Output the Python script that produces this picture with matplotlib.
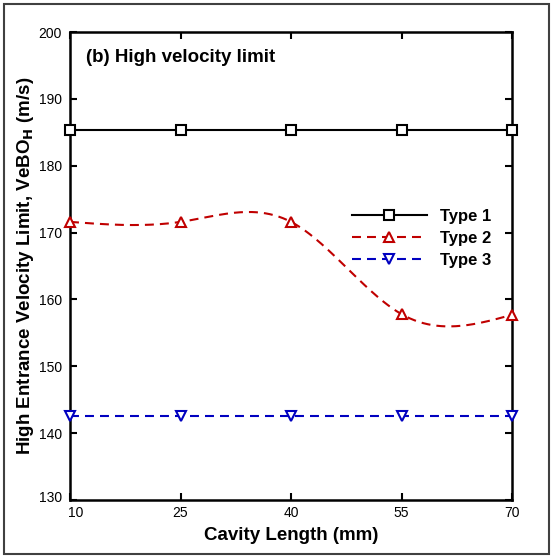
import numpy as np
import matplotlib.pyplot as plt
from matplotlib.patches import Rectangle
import matplotlib.transforms as mtransforms

plt.rcParams['font.family'] = ['Liberation Sans', 'DejaVu Sans']

cavity_length = [10, 25, 40, 55, 70]
type1 = [185.3, 185.3, 185.3, 185.3, 185.3]
type2 = [171.6, 171.6, 171.6, 157.8, 157.7]
type3 = [142.5, 142.5, 142.5, 142.5, 142.5]
series_labels = ['Type 1', 'Type 2', 'Type 3']


def natural_spline(xs, ys, n_out=300):
    # natural cubic spline through the points (smooth connecting line)
    xs = np.asarray(xs, float)
    ys = np.asarray(ys, float)
    n = len(xs) - 1
    h = np.diff(xs)
    A = np.zeros((n + 1, n + 1))
    r = np.zeros(n + 1)
    A[0, 0] = 1
    A[n, n] = 1
    for i in range(1, n):
        A[i, i - 1] = h[i - 1]
        A[i, i] = 2 * (h[i - 1] + h[i])
        A[i, i + 1] = h[i]
        r[i] = 6 * ((ys[i + 1] - ys[i]) / h[i] - (ys[i] - ys[i - 1]) / h[i - 1])
    M = np.linalg.solve(A, r)
    xx = np.linspace(xs[0], xs[-1], n_out)
    idx = np.clip(np.searchsorted(xs, xx, side='right') - 1, 0, n - 1)
    x0, x1 = xs[idx], xs[idx + 1]
    hh = h[idx]
    a = (x1 - xx) / hh
    b = (xx - x0) / hh
    yy = (a * ys[idx] + b * ys[idx + 1]
          + ((a ** 3 - a) * M[idx] + (b ** 3 - b) * M[idx + 1]) * hh ** 2 / 6)
    return xx, yy


fig = plt.figure(figsize=(5.51, 5.56), dpi=100)
ax = fig.add_axes([70 / 551, 56 / 556, 442 / 551, 468 / 556])

dash = (0, (4.3, 2.9))
styles = [
    dict(color='black', ls='-', marker='s'),
    dict(color='#c00000', ls=dash, marker='^'),
    dict(color='#0000c0', ls=dash, marker='v'),
]
for ys, lab, st in zip([type1, type2, type3], series_labels, styles):
    xx, yy = natural_spline(cavity_length, ys)
    ax.plot(xx, yy, color=st['color'], ls=st['ls'], lw=1.5, zorder=2)
    ax.plot(cavity_length, ys, ls='none', marker=st['marker'], ms=7.5,
            mfc='white', mec=st['color'], mew=1.5, zorder=3, clip_on=False)
    ax.plot([], [], color=st['color'], ls=st['ls'], lw=1.5, marker=st['marker'],
            ms=7.5, mfc='white', mec=st['color'], mew=1.5, label=lab)

ax.set_xlim(10, 70)
ax.set_ylim(130, 200)
ax.set_xticks(cavity_length)
ax.set_yticks(np.arange(130, 201, 10))
ax.tick_params(direction='in', top=True, right=True, length=5, width=1.5,
               labelsize=10)
ax.tick_params(axis='y', pad=6)
ax.tick_params(axis='x', pad=4)
for sp in ax.spines.values():
    sp.set_linewidth(1.8)

# matlab-like nudge of the corner labels
lab_x0 = ax.get_xticklabels()[0]
lab_x0.set_transform(lab_x0.get_transform()
                     + mtransforms.ScaledTranslation(6 / 100, 0, fig.dpi_scale_trans))
lab_y0 = ax.get_yticklabels()[0]
lab_y0.set_transform(lab_y0.get_transform()
                     + mtransforms.ScaledTranslation(0, 3 / 100, fig.dpi_scale_trans))

ax.set_xlabel('Cavity Length (mm)', fontsize=13.5, fontweight='bold', labelpad=5)
ax.set_ylabel('High Entrance Velocity Limit, VeBO$_\\mathbf{H}$ (m/s)', fontsize=13.5,
              fontweight='bold', labelpad=2)
ax.text(0.036, 0.946, '(b) High velocity limit', transform=ax.transAxes,
        fontsize=13.5, fontweight='bold', va='center', ha='left')

ax.legend(loc='upper left', bbox_to_anchor=(0.638, 0.622), frameon=False,
          prop={'size': 12, 'weight': 'bold'}, handlelength=4.5,
          handletextpad=0.8, labelspacing=0.42, borderpad=0, borderaxespad=0)

fig.patches.append(Rectangle((4 / 551, 2 / 556), 545 / 551, 550 / 556,
                             transform=fig.transFigure, fill=False,
                             edgecolor='#404040', lw=1.5))

fig.savefig('out.png', dpi=100)
